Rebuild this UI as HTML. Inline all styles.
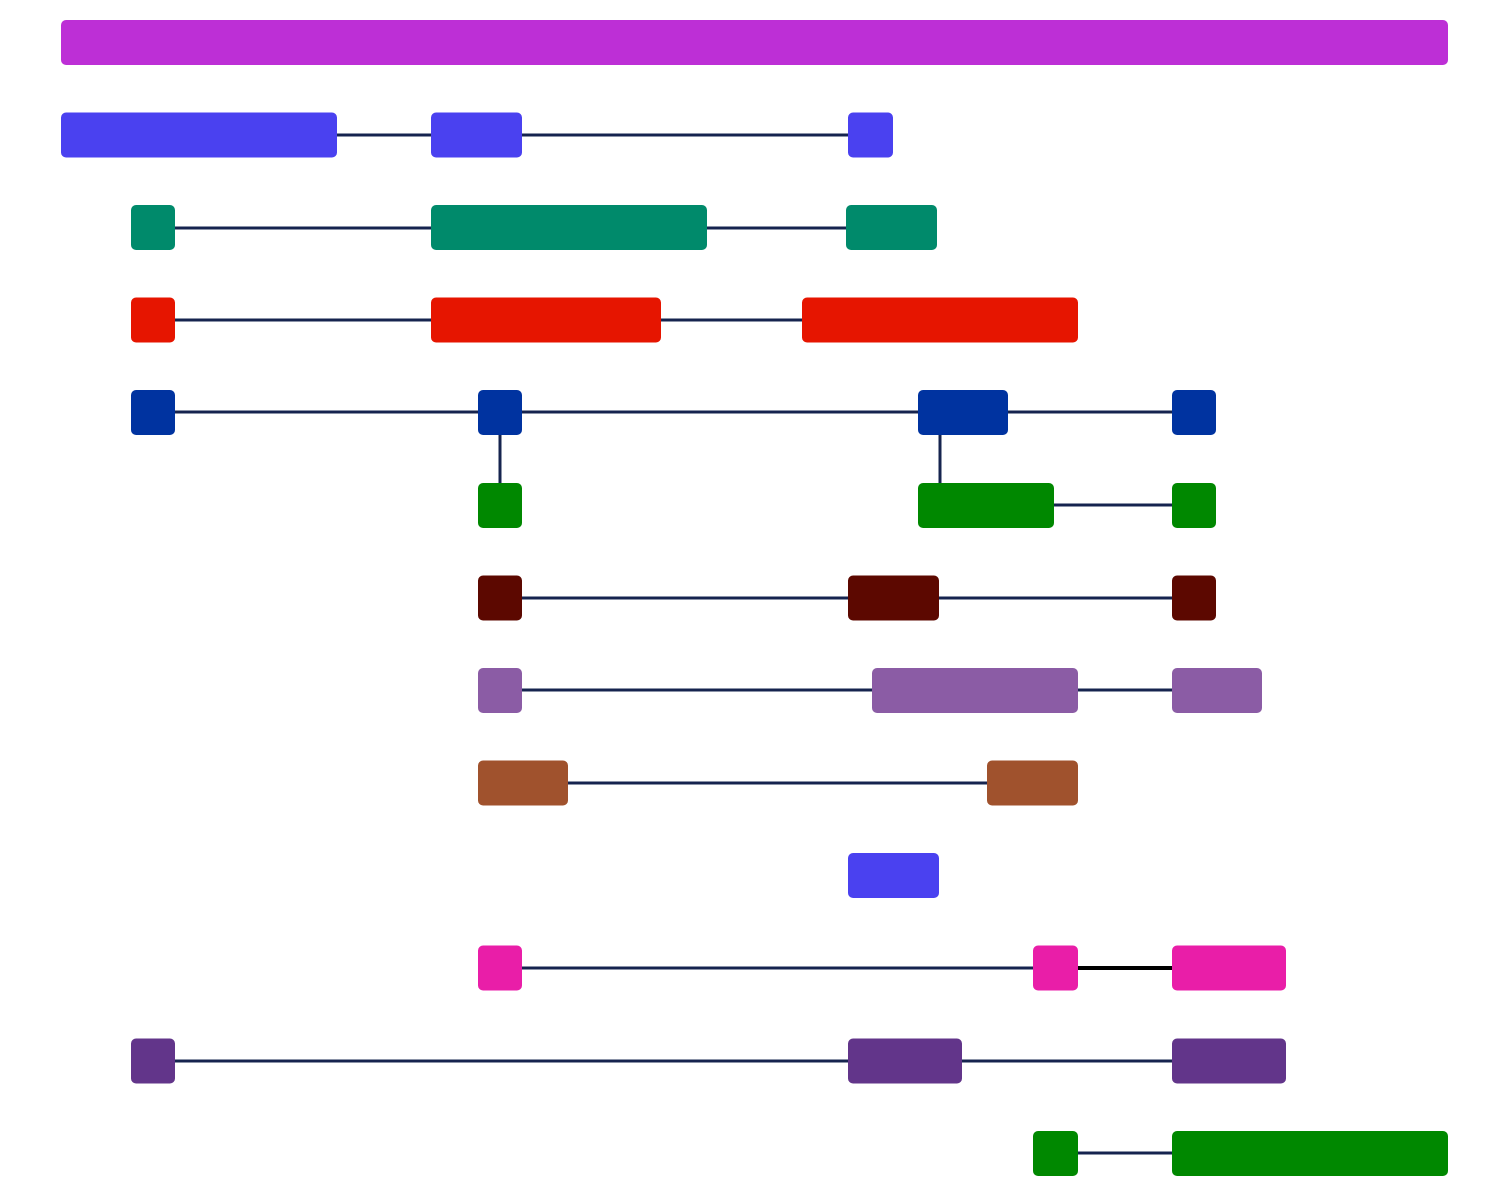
<!DOCTYPE html>
<html><head><meta charset="utf-8"><style>html,body{margin:0;padding:0;background:#fff}svg{display:block}</style></head>
<body>
<svg width="1500" height="1200" viewBox="0 0 1500 1200" xmlns="http://www.w3.org/2000/svg">
<g stroke="#16244F" stroke-width="3">
<line x1="337" y1="135" x2="431" y2="135"/><line x1="522" y1="135" x2="848" y2="135"/>
<line x1="175" y1="228" x2="431" y2="228"/><line x1="707" y1="228" x2="846" y2="228"/>
<line x1="175" y1="320" x2="431" y2="320"/><line x1="661" y1="320" x2="802" y2="320"/>
<line x1="175" y1="412" x2="478" y2="412"/><line x1="522" y1="412" x2="918" y2="412"/><line x1="1008" y1="412" x2="1172" y2="412"/>
<line x1="500" y1="430" x2="500" y2="488"/><line x1="940" y1="430" x2="940" y2="488"/>
<line x1="1054" y1="505" x2="1172" y2="505"/>
<line x1="522" y1="598" x2="848" y2="598"/><line x1="939" y1="598" x2="1172" y2="598"/>
<line x1="522" y1="690" x2="872" y2="690"/><line x1="1078" y1="690" x2="1172" y2="690"/>
<line x1="568" y1="783" x2="987" y2="783"/>
<line x1="522" y1="968" x2="1033" y2="968"/>
<line x1="175" y1="1061" x2="848" y2="1061"/><line x1="962" y1="1061" x2="1172" y2="1061"/>
<line x1="1078" y1="1153" x2="1172" y2="1153"/>
</g>
<line x1="1078" y1="968" x2="1172" y2="968" stroke="#000" stroke-width="4"/>
<g>
<rect x="61" y="20" width="1387" height="45" rx="5" fill="#BD2FD6"/>
<g fill="#4A41F0"><rect x="61" y="112.5" width="276" height="45" rx="5"/><rect x="431" y="112.5" width="91" height="45" rx="5"/><rect x="848" y="112.5" width="45" height="45" rx="5"/><rect x="848" y="853" width="91" height="45" rx="5"/></g>
<g fill="#008A6B"><rect x="131" y="205" width="44" height="45" rx="5"/><rect x="431" y="205" width="276" height="45" rx="5"/><rect x="846" y="205" width="91" height="45" rx="5"/></g>
<g fill="#E61500"><rect x="131" y="297.5" width="44" height="45" rx="5"/><rect x="431" y="297.5" width="230" height="45" rx="5"/><rect x="802" y="297.5" width="276" height="45" rx="5"/></g>
<g fill="#0033A0"><rect x="131" y="390" width="44" height="45" rx="5"/><rect x="478" y="390" width="44" height="45" rx="5"/><rect x="918" y="390" width="90" height="45" rx="5"/><rect x="1172" y="390" width="44" height="45" rx="5"/></g>
<g fill="#008800"><rect x="478" y="483" width="44" height="45" rx="5"/><rect x="918" y="483" width="136" height="45" rx="5"/><rect x="1172" y="483" width="44" height="45" rx="5"/><rect x="1033" y="1131" width="45" height="45" rx="5"/><rect x="1172" y="1131" width="276" height="45" rx="5"/></g>
<g fill="#5C0800"><rect x="478" y="575.5" width="44" height="45" rx="5"/><rect x="848" y="575.5" width="91" height="45" rx="5"/><rect x="1172" y="575.5" width="44" height="45" rx="5"/></g>
<g fill="#8B5CA5"><rect x="478" y="668" width="44" height="45" rx="5"/><rect x="872" y="668" width="206" height="45" rx="5"/><rect x="1172" y="668" width="90" height="45" rx="5"/></g>
<g fill="#A0522D"><rect x="478" y="760.5" width="90" height="45" rx="5"/><rect x="987" y="760.5" width="91" height="45" rx="5"/></g>
<g fill="#E91EA8"><rect x="478" y="945.5" width="44" height="45" rx="5"/><rect x="1033" y="945.5" width="45" height="45" rx="5"/><rect x="1172" y="945.5" width="114" height="45" rx="5"/></g>
<g fill="#62358A"><rect x="131" y="1038.5" width="44" height="45" rx="5"/><rect x="848" y="1038.5" width="114" height="45" rx="5"/><rect x="1172" y="1038.5" width="114" height="45" rx="5"/></g>
</g>
</svg>
</body></html>
